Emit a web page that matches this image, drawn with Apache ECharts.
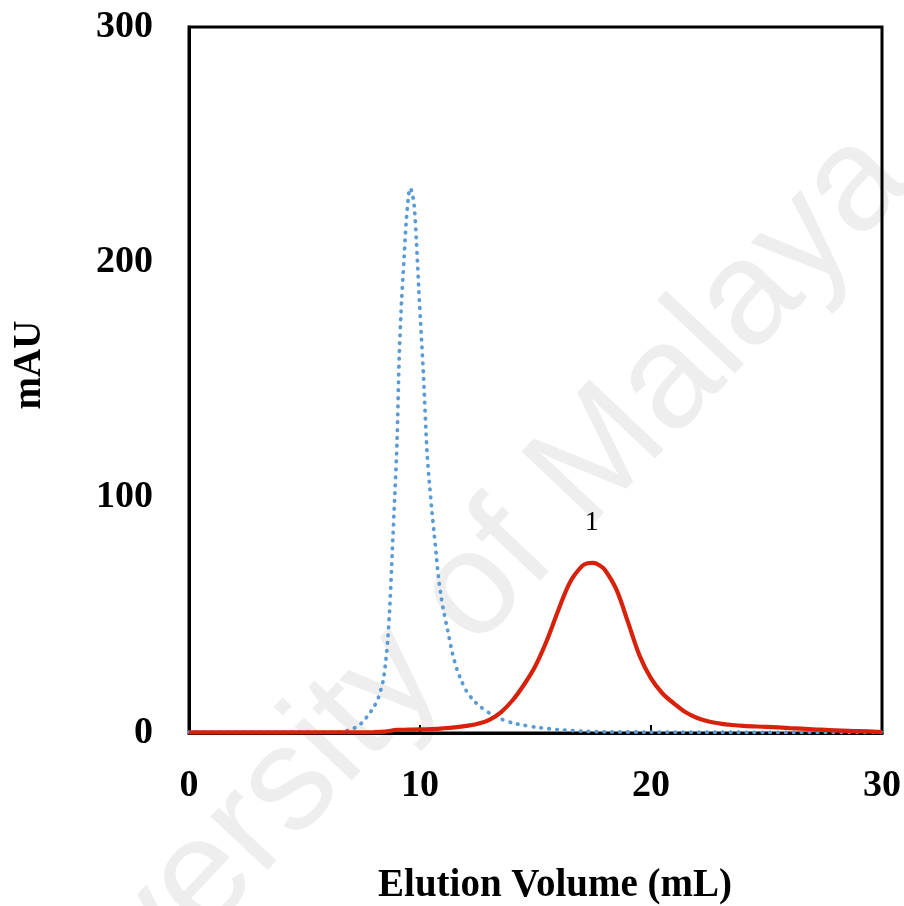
<!DOCTYPE html>
<html>
<head>
<meta charset="utf-8">
<script src="https://cdn.jsdelivr.net/npm/echarts@6/dist/echarts.min.js"></script>
<style>html,body{margin:0;padding:0;background:#fff;}#c{width:904px;height:906px;}</style>
</head>
<body>
<div id="c"></div>
<script>
// Elution volume (mL) and absorbance (mAU) for each trace
var blueX = [0, 2, 4, 6, 6.5, 7.0, 7.25, 7.5, 7.75, 8.0, 8.2, 8.4, 8.5, 8.6, 8.7, 8.8, 8.9, 9.0, 9.1, 9.2, 9.3, 9.4, 9.5, 9.57, 9.65, 9.75, 9.85, 9.95, 10.05, 10.15, 10.3, 10.4, 10.5, 10.6, 10.7, 10.8, 10.9, 11.0, 11.2, 11.4, 11.6, 11.8, 12.0, 12.3, 12.6, 13.0, 13.5, 14.0, 14.5, 15.0, 16.0, 17.0, 18.0, 20, 25, 30];
var blueY = [0.4, 0.4, 0.4, 0.4, 0.5, 1.4, 2.6, 4.5, 7.5, 11, 15, 22, 29, 39, 55, 77, 99, 122, 160, 183, 200, 217, 228, 231.6, 230, 224, 208, 188, 170, 152, 120, 107, 96, 86, 76, 66, 59, 53, 43.5, 34, 27, 22, 18, 14, 11.3, 8.5, 6, 4.3, 3.3, 2.5, 1.4, 0.8, 0.5, 0.4, 0.3, 0.3];

var redX = [0, 4, 8, 8.5, 9.0, 9.5, 10, 10.5, 11, 11.5, 12, 12.5, 13, 13.5, 14, 14.5, 15, 15.5, 16, 16.5, 17, 17.25, 17.5, 17.75, 18, 18.5, 19, 19.5, 20, 20.5, 21, 21.5, 22, 22.5, 23, 23.5, 24, 25, 26, 27, 28, 29, 30];
var redY = [0.3, 0.3, 0.4, 0.6, 1.3, 1.4, 1.5, 1.7, 2.0, 2.4, 3.0, 3.9, 5.6, 8.8, 13.8, 20.5, 28.6, 39.5, 52.5, 64.2, 70.8, 72.1, 72.3, 71.4, 69.4, 61.0, 47.2, 33.0, 23.2, 16.8, 12.5, 8.8, 6.4, 4.9, 4.0, 3.4, 3.0, 2.6, 2.1, 1.6, 1.1, 0.8, 0.4];

var peakLabels = ['1'];
var peakLabelX = [17.43];
var peakLabelY = [89.2];

var xTicks = [0, 10, 20, 30];
var yTicks = [0, 100, 200, 300];

var xTitle = 'Elution Volume (mL)';
var yTitle = 'mAU';
var watermark = 'University of Malaya';

function pairs(xs, ys) { return xs.map(function (x, i) { return [x, ys[i]]; }); }

var serif = '"Liberation Serif", "Times New Roman", serif';
var chart = echarts.init(document.getElementById('c'), null, {renderer: 'canvas'});
chart.setOption({
  backgroundColor: '#ffffff',
  animation: false,
  grid: {left: 189, right: 22, top: 27, bottom: 173, show: true, borderColor: '#000', borderWidth: 3, backgroundColor: 'transparent'},
  xAxis: {
    type: 'value', min: xTicks[0], max: xTicks[xTicks.length - 1], interval: 10,
    axisLine: {show: true, lineStyle: {color: '#000', width: 3}},
    axisTick: {show: true, inside: true, length: 8, lineStyle: {color: '#000', width: 2}},
    splitLine: {show: false},
    axisLabel: {color: '#000', fontFamily: serif, fontWeight: 'bold', fontSize: 38, margin: 34}
  },
  yAxis: {
    type: 'value', min: yTicks[0], max: yTicks[yTicks.length - 1], interval: 100,
    axisLine: {show: true, lineStyle: {color: '#000', width: 3}},
    axisTick: {show: false},
    splitLine: {show: false},
    axisLabel: {color: '#000', fontFamily: serif, fontWeight: 'bold', fontSize: 38, margin: 36}
  },
  graphic: [
    {type: 'text', z: -10, x: 428, y: 640, rotation: Math.PI / 4 + 0.03,
     style: {text: watermark, fill: '#eeeeee', font: '148px "Liberation Sans", Arial, sans-serif', textAlign: 'center', textVerticalAlign: 'middle'}},
    {type: 'text', x: 555, y: 886,
     style: {text: xTitle, fill: '#000', font: 'bold 39px ' + serif, textAlign: 'center', textVerticalAlign: 'middle'}},
    {type: 'text', x: 30, y: 365, rotation: Math.PI / 2,
     style: {text: yTitle, fill: '#000', font: 'bold 39px ' + serif, textAlign: 'center', textVerticalAlign: 'middle'}}
  ],
  series: [
    {
      type: 'line', name: 'blue', data: pairs(blueX, blueY), showSymbol: false, symbol: 'none',
      smooth: 0.25, z: 3,
      lineStyle: {color: '#5b9bd5', width: 3.8, type: [0.5, 7.4], cap: 'round'}
    },
    {
      type: 'line', name: 'red', data: pairs(redX, redY), showSymbol: false, symbol: 'none',
      smooth: 0.35, z: 4,
      lineStyle: {color: '#d7220b', width: 4.2},
      markPoint: {
        symbol: 'rect', symbolSize: 1, itemStyle: {color: 'rgba(0,0,0,0)'},
        label: {show: true, position: 'inside', color: '#000', fontFamily: serif, fontSize: 28, formatter: function (p) { return p.name; }},
        data: peakLabels.map(function (t, i) { return {name: t, coord: [peakLabelX[i], peakLabelY[i]]}; })
      }
    }
  ]
});
</script>
</body>
</html>
